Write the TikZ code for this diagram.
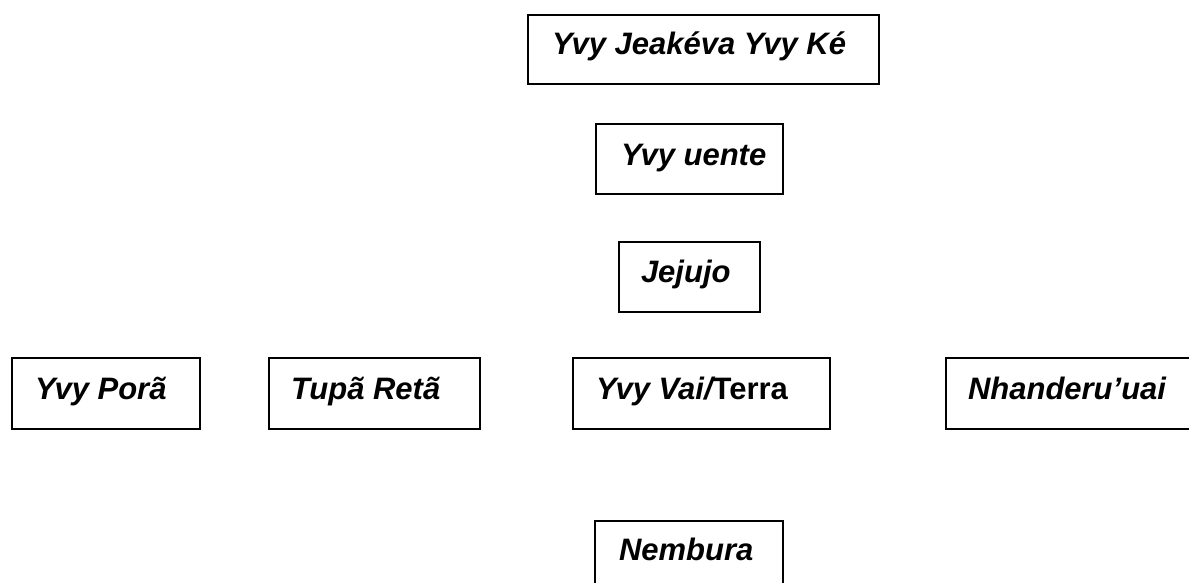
\documentclass[tikz,border=0pt]{standalone}
\usepackage{fontspec}
\setmainfont{Liberation Sans}
\newcommand\boxtext[2]{\makebox[#1][l]{#2}}
\begin{document}
\begin{tikzpicture}[x=1pt,y=-1pt,
  box/.style={draw, line width=2pt, anchor=north west, inner ysep=0pt,
    font=\fontsize{31}{36}\selectfont\bfseries\itshape}]
\useasboundingbox (0,0) rectangle (1189,583);
\clip (0,0) rectangle (1189,583);
% top column
\node[box, inner xsep=24pt, text height=40pt, text depth=29pt] (jeakeva) at (527,14)
  {\boxtext{303pt}{Yvy Jeakéva Yvy Ké}};
\node[box, inner xsep=25pt, text height=42pt, text depth=28pt] (uente) at (595,123)
  {\boxtext{137pt}{Yvy uente}};
\node[box, inner xsep=22pt, text height=40pt, text depth=30pt] (jejujo) at (618,241)
  {\boxtext{97pt}{Jejujo}};
% row
\node[box, inner xsep=23pt, text height=41pt, text depth=30pt] (pora) at (11,357)
  {\boxtext{142pt}{Yvy Porã}};
\node[box, inner xsep=22pt, text height=41pt, text depth=30pt] (tupa) at (268,357)
  {\boxtext{167pt}{Tupã Retã}};
\node[box, inner xsep=23pt, text height=41pt, text depth=30pt] (vai) at (572,357)
  {\boxtext{211pt}{Yvy Vai/\upshape Terra}};
\node[box, inner xsep=22pt, text height=41pt, text depth=30pt] (nhanderu) at (945,357)
  {\boxtext{216pt}{Nhanderu’uai}};
% bottom
\node[box, inner xsep=24pt, text height=39pt, text depth=31pt] (nembura) at (594,520)
  {\boxtext{140pt}{Nembura}};
\end{tikzpicture}
\end{document}
